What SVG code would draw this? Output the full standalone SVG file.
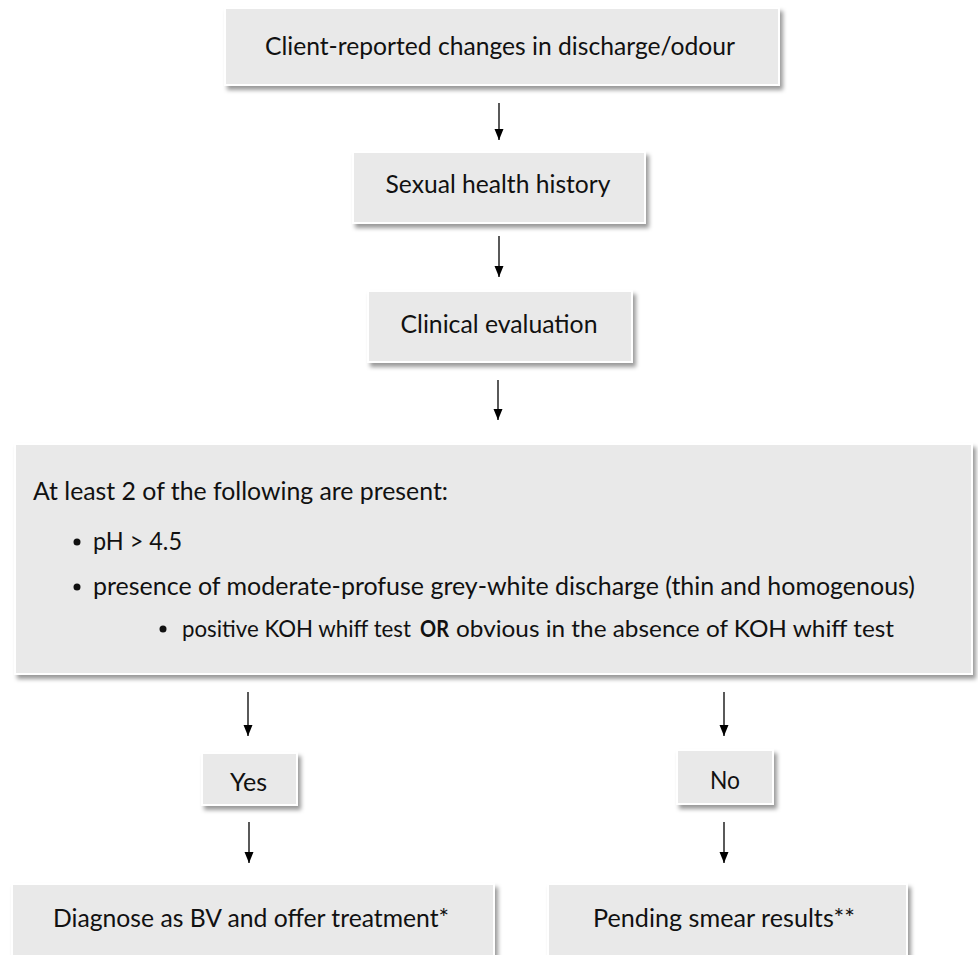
<svg xmlns="http://www.w3.org/2000/svg" width="978" height="955" viewBox="0 0 978 955">
  <style>
    .box { fill: #E9E9E9; stroke: #FFFFFF; stroke-width: 2; filter: url(#shadow); }
    .t { font-family: Lato, "Open Sans", "Liberation Sans", sans-serif; font-size: 25px; fill: #111111; }
    .s { font-size: 22.5px; }
    .c { text-anchor: middle; }
    .b { font-weight: bold; }
    .conn line { stroke: #000000; stroke-width: 1.3; marker-end: url(#arrow); }
    .dot { fill: #111111; }
  </style>
  <defs>
    <filter id="shadow" x="-5%" y="-10%" width="115%" height="130%">
      <feDropShadow dx="3" dy="4" stdDeviation="2" flood-color="#000000" flood-opacity="0.4"/>
    </filter>
    <marker id="arrow" markerUnits="userSpaceOnUse" markerWidth="12" markerHeight="10" viewBox="0 0 12 10" refX="11" refY="5" orient="auto">
      <path d="M0,0.5 L11,5 L0,9.5 Z" fill="#000000"/>
    </marker>
  </defs>

  <g id="n1">
    <rect class="box" x="225" y="8" width="554" height="77"/>
    <text class="t c" x="500" y="55" textLength="470" lengthAdjust="spacingAndGlyphs">Client-reported changes in discharge/odour</text>
  </g>
  <g id="n2">
    <rect class="box" x="353" y="152" width="292" height="71"/>
    <text class="t c" x="498" y="193" textLength="225" lengthAdjust="spacingAndGlyphs">Sexual health history</text>
  </g>
  <g id="n3">
    <rect class="box" x="368" y="291" width="264" height="71"/>
    <text class="t c" x="499" y="333" textLength="197" lengthAdjust="spacingAndGlyphs">Clinical evaluation</text>
  </g>
  <g id="n4">
    <rect class="box" x="15" y="444" width="957" height="230"/>
    <text class="t" x="33" y="500" textLength="415" lengthAdjust="spacingAndGlyphs">At least 2 of the following are present:</text>
    <circle class="dot" cx="77" cy="542" r="3.5"/>
    <text class="t" x="93" y="550" textLength="89" lengthAdjust="spacingAndGlyphs">pH &gt; 4.5</text>
    <circle class="dot" cx="77" cy="587" r="3.5"/>
    <text class="t" x="93" y="595" textLength="822" lengthAdjust="spacingAndGlyphs">presence of moderate-profuse grey-white discharge (thin and homogenous)</text>
    <circle class="dot" cx="163" cy="629" r="3.5"/>
    <text class="t s" x="182" y="637" textLength="229" lengthAdjust="spacingAndGlyphs">positive KOH whiff test</text>
    <text class="t s b" x="420" y="637" textLength="29" lengthAdjust="spacingAndGlyphs">OR</text>
    <text class="t s" x="456" y="637" textLength="438" lengthAdjust="spacingAndGlyphs">obvious in the absence of KOH whiff test</text>
  </g>
  <g id="n5">
    <rect class="box" x="202" y="753" width="95" height="52"/>
    <text class="t c" x="248.5" y="791" textLength="37" lengthAdjust="spacingAndGlyphs">Yes</text>
  </g>
  <g id="n6">
    <rect class="box" x="677" y="750" width="96" height="54"/>
    <text class="t c" x="725" y="789" textLength="30" lengthAdjust="spacingAndGlyphs">No</text>
  </g>
  <g id="n7">
    <rect class="box" x="12" y="884" width="482" height="90"/>
    <text class="t c" x="251" y="927" textLength="396" lengthAdjust="spacingAndGlyphs">Diagnose as BV and offer treatment*</text>
  </g>
  <g id="n8">
    <rect class="box" x="548" y="884" width="359" height="90"/>
    <text class="t c" x="724" y="927" textLength="262" lengthAdjust="spacingAndGlyphs">Pending smear results**</text>
  </g>

  <g id="connectors" class="conn">
    <line x1="499" y1="103" x2="499" y2="140"/>
    <line x1="499" y1="236" x2="499" y2="277"/>
    <line x1="498" y1="380" x2="498" y2="420"/>
    <line x1="248" y1="692" x2="248" y2="736"/>
    <line x1="724" y1="692" x2="724" y2="736"/>
    <line x1="249" y1="822" x2="249" y2="863"/>
    <line x1="724" y1="822" x2="724" y2="863"/>
  </g>
</svg>
